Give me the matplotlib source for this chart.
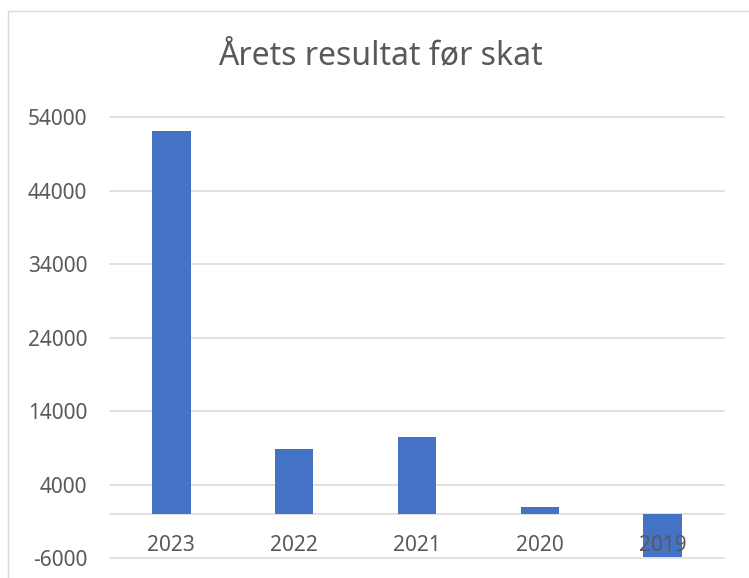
import matplotlib
matplotlib.use("Agg")
import matplotlib.pyplot as plt
from matplotlib.patches import Rectangle

years = ["2023", "2022", "2021", "2020", "2019"]
values = [52200, 8800, 10500, 950, -5850]
yticks = [-6000, 4000, 14000, 24000, 34000, 44000, 54000]
title = "Årets resultat før skat"

bar_color = "#4472C4"
text_color = "#595959"
grid_color = "#D9D9D9"

plt.rcParams['font.family'] = ['Noto Sans', 'DejaVu Sans']

fig = plt.figure(figsize=(7.49, 5.78), dpi=100)
W, H = 749, 578
ax = fig.add_axes([110 / W, 1 - 558 / H, 614 / W, (558 - 117.3) / H])

x = list(range(len(years)))
ax.bar(x, values, width=0.314, color=bar_color, zorder=2)

ax.set_xlim(-0.5, len(years) - 0.5)
ax.set_ylim(yticks[0], yticks[-1])
ax.set_yticks(yticks)
ax.set_yticklabels([str(v) for v in yticks])
ax.set_xticks(x)
ax.set_xticklabels(years)

ax.set_axisbelow(True)
ax.grid(axis='y', color=grid_color, linewidth=1.1)
ax.grid(axis='x', visible=False)
for gl in ax.get_ygridlines():
    gl.set_clip_on(False)

for s in ['top', 'right', 'left']:
    ax.spines[s].set_visible(False)
ax.spines['bottom'].set_position(('data', 0))
ax.spines['bottom'].set_color(grid_color)
ax.spines['bottom'].set_linewidth(1.1)
ax.spines['bottom'].set_zorder(1)

ax.tick_params(axis='y', length=0, pad=16.5, labelsize=15, labelcolor=text_color)
ax.tick_params(axis='x', length=0, pad=15.5, labelsize=15, labelcolor=text_color)
ax.xaxis.set_zorder(5)

fig.text(380.5 / W, 1 - 64 / H, title, ha='center', va='baseline',
         fontsize=23, color=text_color, fontweight='light')

fig.patches.append(Rectangle((8 / W, -0.05), 1.1, 1 - 11 / H + 0.05,
                             transform=fig.transFigure, fill=False,
                             edgecolor=grid_color, linewidth=1.0))

fig.savefig("out.png", dpi=100, facecolor="white")
